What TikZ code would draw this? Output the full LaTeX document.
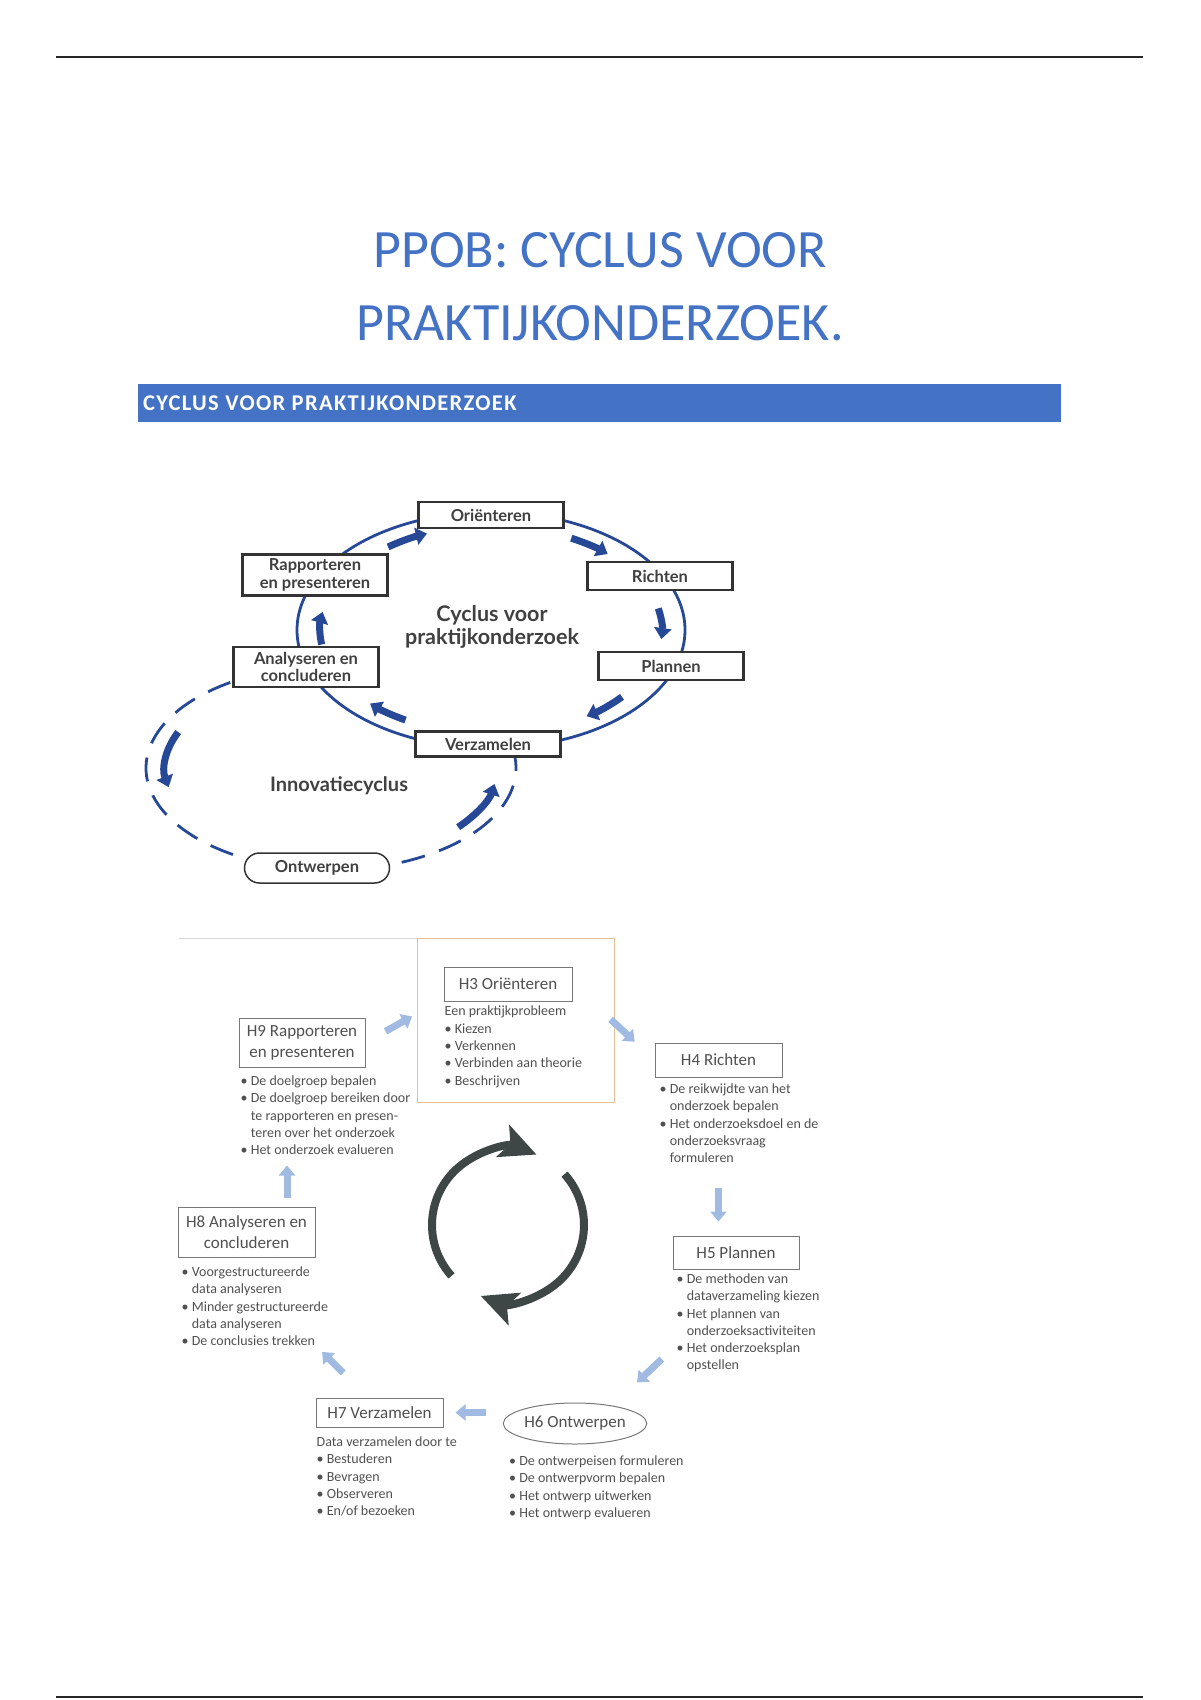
\documentclass[tikz,border=0pt]{standalone}
\usepackage{fontspec}
\setmainfont{Carlito}
\newfontfamily\cycfont{Lato}
\usepackage{tikz}
\usetikzlibrary{arrows.meta,positioning,shapes.geometric,calc}
\definecolor{titleblue}{RGB}{68,114,196}
\definecolor{cycblue}{RGB}{38,72,150}
\definecolor{boxgray}{RGB}{120,120,120}
\definecolor{textgray}{RGB}{80,80,80}
\definecolor{softblue}{RGB}{160,186,226}
\definecolor{framebrown}{RGB}{232,192,152}
\definecolor{loopgray}{RGB}{62,70,70}
\tikzset{
  cycbox/.style={draw=black!80, line width=2.1pt, fill=white, align=center,
    font=\cycfont\bfseries\fontsize{16.5}{17.5}\selectfont, text=black!75,
    minimum width=145pt, inner sep=1pt},
  chapbox/.style={draw=boxgray, line width=1pt, fill=white, align=center,
    font=\fontsize{17}{21}\selectfont, text=textgray,
    minimum width=127pt, inner sep=1pt},
  chaptext/.style={align=left, font=\fontsize{14}{17.3}\selectfont,
    text=textgray, inner sep=0pt},
  cycline/.style={cycblue, line width=2.8pt},
  cycarrow/.style={cycblue, line width=7pt, -{Triangle[length=11pt,width=17pt]}},
  softarrow/.style={softblue, line width=7pt, -{Triangle[length=10pt,width=16pt]}},
  looparrow/.style={loopgray, line width=8pt,
    -{Stealth[length=36pt,width=34pt,inset=8pt]}}
}
\newcommand{\bl}{\textbullet\ }
\newcommand{\ind}{\hphantom{\textbullet\ }}

\begin{document}
\begin{tikzpicture}[x=1pt, y=1pt, node distance=6pt and 0pt]
  \useasboundingbox (0,0) rectangle (1200,-1700);
  % page rules
  \draw[line width=2.5pt, black!85] (56,-57) -- (1143,-57);
  \draw[line width=2.5pt, black!85] (56,-1697) -- (1143,-1697);

  \node[font=\fontsize{54}{73}\selectfont, text=titleblue, align=center]
    (title) at (600,-287) {PPOB: CYCLUS VOOR\\PRAKTIJKONDERZOEK.};
  \node[fill=titleblue, minimum width=923pt, minimum height=38pt, inner sep=0pt,
    anchor=north west] (bar) at (138,-384) {};
  \node[font=\bfseries\fontsize{22.5}{24}\selectfont\addfontfeatures{LetterSpace=6},
    text=white, anchor=west, inner sep=0pt] (bartitle) at ([xshift=5pt]bar.west)
    {CYCLUS VOOR PRAKTIJKONDERZOEK};

  % cycle with innovation loop
  \coordinate (cyc) at (491,-630);
  \coordinate (inno) at (331,-768);
  \draw[cycline] (cyc) ellipse[x radius=194pt, y radius=118pt];
  \draw[cycline, dash pattern=on 24pt off 15pt] ($(inno)+(123:185pt and 102pt)$)
    arc[start angle=123, end angle=370, x radius=185pt, y radius=102pt];
  \foreach \a/\b in {127/112, 62/47, 12/-5, -40/-56, 240/225, 188/170}
    \draw[cycarrow] ($(cyc)+(\a:171pt and 104pt)$)
      arc[start angle=\a, end angle=\b, x radius=171pt, y radius=104pt];
  \foreach \a/\b in {157/192, -40/-10}
    \draw[cycarrow] ($(inno)+(\a:166pt and 92pt)$)
      arc[start angle=\a, end angle=\b, x radius=166pt, y radius=92pt];

  \node[cycbox, minimum height=26pt] (ori) at (491,-515) {Oriënteren};
  \node[cycbox, minimum height=28pt] (ric) at (660,-576) {Richten};
  \node[cycbox, minimum height=41pt] (rap) at (315,-575) {Rapporteren\\en presenteren};
  \node[cycbox, minimum height=28pt] (pla) at (671,-666) {Plannen};
  \node[cycbox, minimum height=40pt] (ana) at (306,-667) {Analyseren en\\concluderen};
  \node[cycbox, minimum height=25pt] (ver) at (488,-744) {Verzamelen};
  \node[cycbox, minimum height=30pt, rounded corners=15pt, line width=1.5pt]
    (ont) at (317,-868) {Ontwerpen};
  \node[font=\cycfont\bfseries\fontsize{21.5}{23}\selectfont, text=black!75,
    align=center] (cyctitle) at (492,-627) {Cyclus voor\\praktijkonderzoek};
  \node[font=\cycfont\bfseries\fontsize{20}{22}\selectfont, text=black!75]
    (innotitle) at (339,-786) {Innovatiecyclus};

  % chapters
  \draw[black!15, line width=1pt] (179,-938) -- (417,-938);
  \node[draw=framebrown, line width=1pt, minimum width=197pt, minimum height=164pt,
    inner sep=0pt] (h3frame) at (515.5,-1020) {};
  \node[chapbox, minimum width=128pt, minimum height=34pt] (h3) at (508,-984) {H3 Oriënteren};
  \node[chaptext, below right=4.5pt and 1pt of h3.south west] (h3text)
    {Een praktijkprobleem\\\bl Kiezen\\\bl Verkennen\\\bl Verbinden aan theorie\\\bl Beschrijven};

  \node[chapbox, minimum width=126pt, minimum height=49pt] (h9) at (302,-1042.5)
    {H9 Rapporteren\\en presenteren};
  \node[chaptext, below right=8pt and 2pt of h9.south west] (h9text)
    {\bl De doelgroep bepalen\\\bl De doelgroep bereiken door\\\ind te rapporteren en presen-\\
     \ind teren over het onderzoek\\\bl Het onderzoek evalueren};

  \node[chapbox, minimum height=34pt] (h4) at (718.5,-1060) {H4 Richten};
  \node[chaptext, below right=6pt and 5pt of h4.south west] (h4text)
    {\bl De reikwijdte van het\\\ind onderzoek bepalen\\\bl Het onderzoeksdoel en de\\
     \ind onderzoeksvraag\\\ind formuleren};

  \node[chapbox, minimum width=126pt, minimum height=33pt] (h5) at (736,-1252.5) {H5 Plannen};
  \node[chaptext, below right=4pt and 4pt of h5.south west] (h5text)
    {\bl De methoden van\\\ind dataverzameling kiezen\\\bl Het plannen van\\
     \ind onderzoeksactiviteiten\\\bl Het onderzoeksplan\\\ind opstellen};

  \node[chapbox, ellipse, minimum width=136pt, minimum height=41pt, inner sep=0pt]
    (h6) at (575,-1423.5) {H6 Ontwerpen};
  \node[chaptext, below right=11pt and -66pt of h6.south] (h6text)
    {\bl De ontwerpeisen formuleren\\\bl De ontwerpvorm bepalen\\\bl Het ontwerp uitwerken\\
     \bl Het ontwerp evalueren};

  \node[chapbox, minimum height=29pt] (h7) at (379.5,-1412.5) {H7 Verzamelen};
  \node[chaptext, below right=9pt and 1pt of h7.south west] (h7text)
    {Data verzamelen door te\\\bl Bestuderen\\\bl Bevragen\\\bl Observeren\\\bl En/of bezoeken};

  \node[chapbox, minimum width=137pt, minimum height=50pt] (h8) at (246.5,-1232)
    {H8 Analyseren en\\concluderen};
  \node[chaptext, below right=9pt and 4pt of h8.south west] (h8text)
    {\bl Voorgestructureerde\\\ind data analyseren\\\bl Minder gestructureerde\\
     \ind data analyseren\\\bl De conclusies trekken};

  \draw[softarrow, shorten <=23pt, shorten >=5pt] (h9.east) -- ([yshift=6pt]h3frame.west);
  \draw[softarrow, shorten <=52pt, shorten >=27pt] (h3.east) -- (h4.west);
  \draw[softarrow, shorten <=110pt, shorten >=14pt] (h4.south) -- (h4.south |- h5.north);
  \draw[softarrow, shorten <=130pt, shorten >=29pt] ([xshift=20pt]h5.south) -- ([xshift=41pt]h6.north);
  \draw[softarrow, shorten <=17pt, shorten >=12pt] (h6.west |- h7.east) -- (h7.east);
  \draw[softarrow, shorten <=35pt, shorten >=134pt] ([xshift=-11.5pt]h7.north) -- ([xshift=-19.5pt]h8.south);
  \draw[softarrow, shorten <=9pt, shorten >=98pt] ([xshift=40.5pt]h8.north) -- ([xshift=-15pt]h9.south);

  % central loop
  \coordinate (loop) at (508,-1225);
  \draw[looparrow] ($(loop)+(222:76pt)$) arc[start angle=222, end angle=68, radius=76pt];
  \draw[looparrow] ($(loop)+(42:76pt)$) arc[start angle=42, end angle=-111, radius=76pt];
\end{tikzpicture}
\end{document}
